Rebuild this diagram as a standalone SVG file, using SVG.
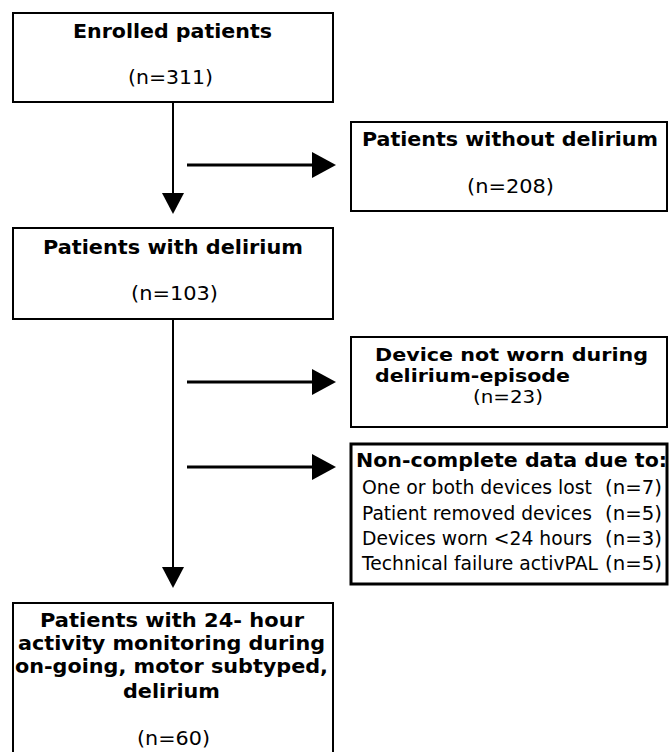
<svg xmlns="http://www.w3.org/2000/svg" width="670" height="752" viewBox="0 0 670 752">
<style>
.box{fill:#fff;stroke:#000;stroke-width:2}
.thick{stroke-width:3}
.b{font-family:"DejaVu Sans",Verdana,sans-serif;font-weight:bold;font-size:19px;fill:#000}
.r{font-family:"DejaVu Sans",Verdana,sans-serif;font-size:19px;fill:#000}
.s18{font-size:18px}
.ln{stroke:#000;stroke-width:2;fill:none}
.hl{stroke:#000;stroke-width:3;fill:none}
.hd{fill:#000;stroke:none}
</style>
<rect width="670" height="752" fill="#fff"/>
<g id="connectors">
<line class="ln" x1="173" y1="102" x2="173" y2="194"/>
<polygon class="hd" points="162,193 184,193 173,214"/>
<line class="ln" x1="173" y1="319" x2="173" y2="568"/>
<polygon class="hd" points="162,567 184,567 173,588"/>
<line class="hl" x1="187" y1="165" x2="313" y2="165"/>
<polygon class="hd" points="312,152 312,178 336,165"/>
<line class="hl" x1="187" y1="382" x2="313" y2="382"/>
<polygon class="hd" points="312,369 312,395 336,382"/>
<line class="hl" x1="187" y1="467" x2="313" y2="467"/>
<polygon class="hd" points="312,454 312,480 336,467"/>
</g>
<g id="enrolled">
<rect class="box" x="13" y="13" width="320" height="89"/>
<text class="b" x="73" y="38" textLength="199" lengthAdjust="spacingAndGlyphs">Enrolled patients</text>
<text class="r" x="128" y="84" textLength="85" lengthAdjust="spacingAndGlyphs">(n=311)</text>
</g>
<g id="without">
<rect class="box" x="351" y="122" width="316" height="89"/>
<text class="b" x="362" y="146" textLength="296" lengthAdjust="spacingAndGlyphs">Patients without delirium</text>
<text class="r" x="467" y="193" textLength="87" lengthAdjust="spacingAndGlyphs">(n=208)</text>
</g>
<g id="with">
<rect class="box" x="13" y="228" width="320" height="91"/>
<text class="b" x="43" y="254" textLength="260" lengthAdjust="spacingAndGlyphs">Patients with delirium</text>
<text class="r" x="131" y="300" textLength="87" lengthAdjust="spacingAndGlyphs">(n=103)</text>
</g>
<g id="notworn">
<rect class="box" x="351" y="337" width="316" height="90"/>
<text class="b s18" x="375" y="361" textLength="273" lengthAdjust="spacingAndGlyphs">Device not worn during</text>
<text class="b s18" x="375" y="382" textLength="195" lengthAdjust="spacingAndGlyphs">delirium-episode</text>
<text class="r s18" x="473" y="403" textLength="70" lengthAdjust="spacingAndGlyphs">(n=23)</text>
</g>
<g id="noncomplete">
<rect class="box thick" x="351" y="444" width="316" height="140"/>
<text class="b" x="356" y="467" textLength="311" lengthAdjust="spacingAndGlyphs">Non-complete data due to:</text>
<text class="r" x="362" y="494" textLength="230" lengthAdjust="spacingAndGlyphs">One or both devices lost</text>
<text class="r" x="605" y="494" textLength="57" lengthAdjust="spacingAndGlyphs">(n=7)</text>
<text class="r" x="362" y="520" textLength="230" lengthAdjust="spacingAndGlyphs">Patient removed devices</text>
<text class="r" x="605" y="520" textLength="57" lengthAdjust="spacingAndGlyphs">(n=5)</text>
<text class="r" x="362" y="545" textLength="230" lengthAdjust="spacingAndGlyphs">Devices worn &lt;24 hours</text>
<text class="r" x="605" y="545" textLength="57" lengthAdjust="spacingAndGlyphs">(n=3)</text>
<text class="r" x="362" y="570" textLength="236" lengthAdjust="spacingAndGlyphs">Technical failure activPAL</text>
<text class="r" x="605" y="570" textLength="57" lengthAdjust="spacingAndGlyphs">(n=5)</text>
</g>
<g id="final">
<rect class="box" x="13" y="603" width="320" height="160"/>
<text class="b" x="40" y="627" textLength="264" lengthAdjust="spacingAndGlyphs">Patients with 24- hour</text>
<text class="b" x="18" y="650" textLength="307" lengthAdjust="spacingAndGlyphs">activity monitoring during</text>
<text class="b" x="15" y="673" textLength="313" lengthAdjust="spacingAndGlyphs">on-going, motor subtyped,</text>
<text class="b" x="123" y="698" textLength="97" lengthAdjust="spacingAndGlyphs">delirium</text>
<text class="r" x="137" y="745" textLength="73" lengthAdjust="spacingAndGlyphs">(n=60)</text>
</g>
</svg>
